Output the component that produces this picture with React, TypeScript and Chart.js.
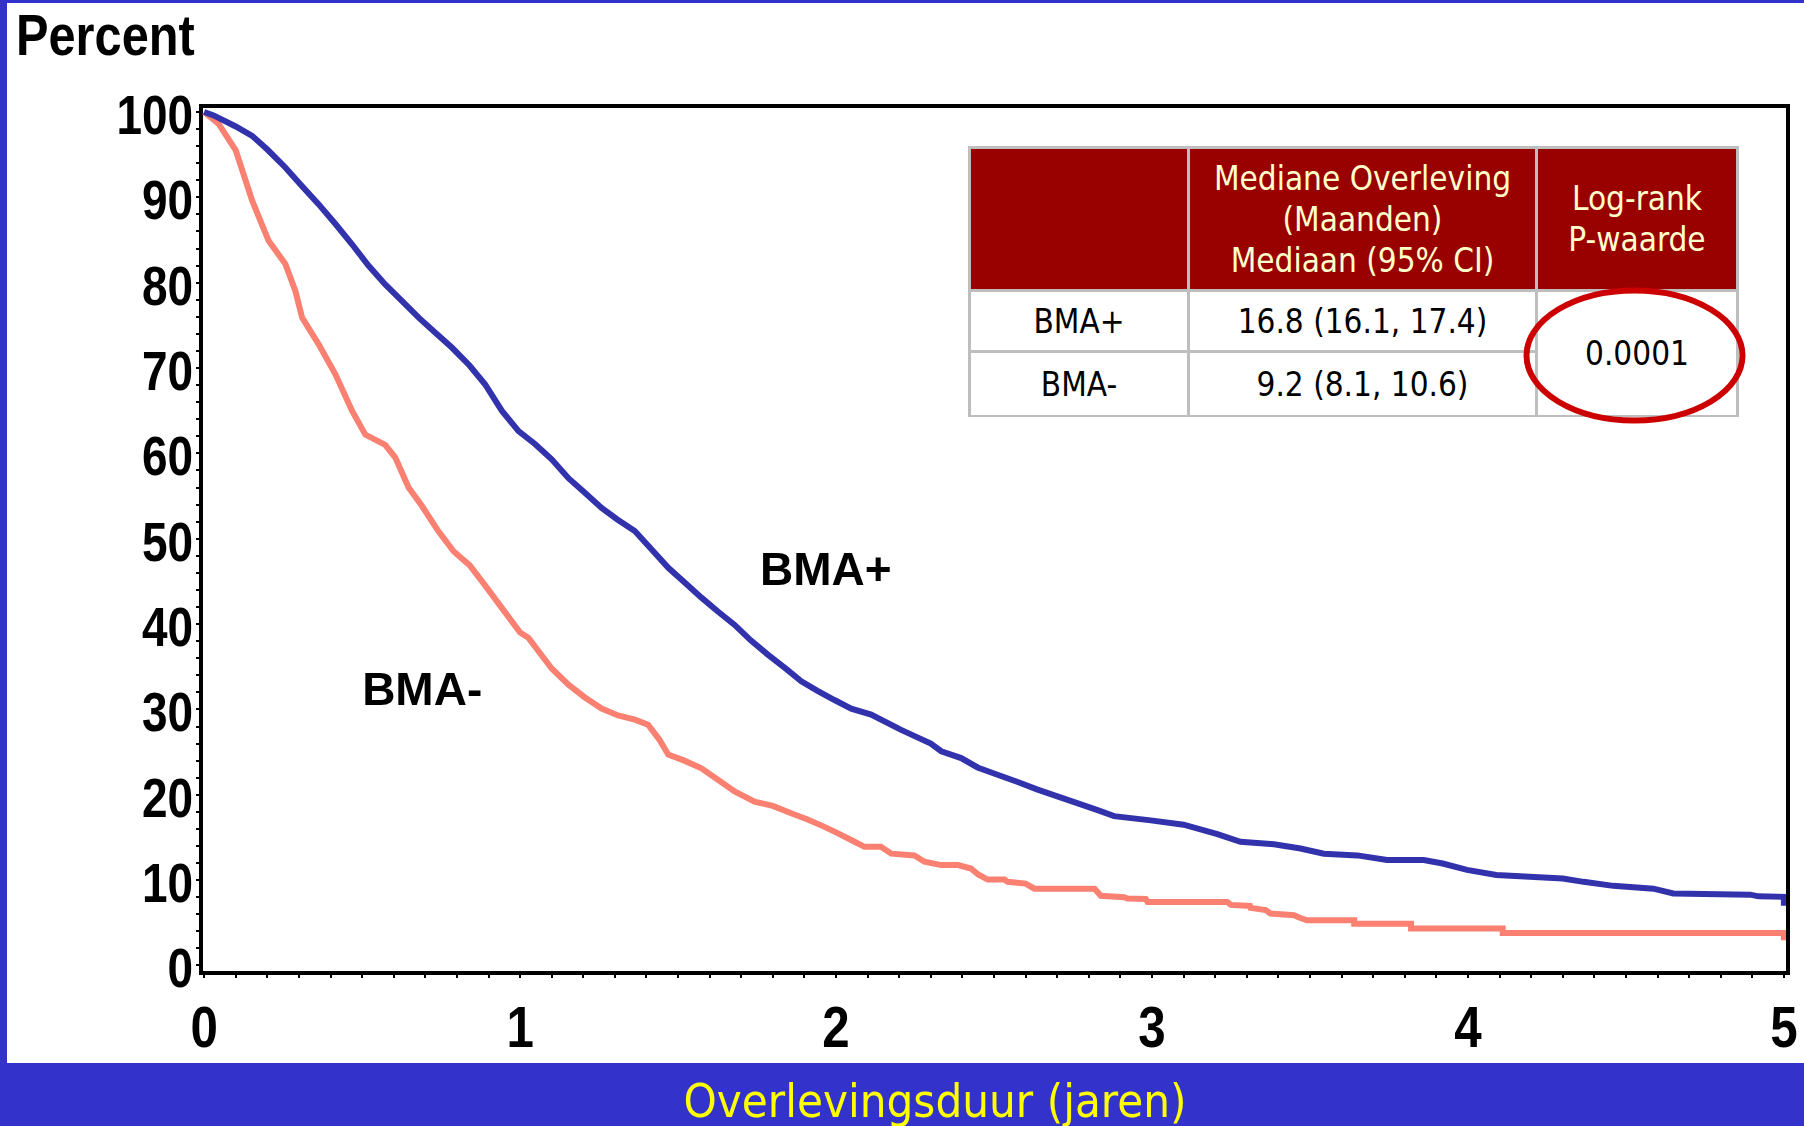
import React, { useEffect, useRef } from 'react';
import { Chart, registerables } from 'chart.js';

Chart.register(...registerables);

// ---- data (years, percent surviving) ----
const blueT = [0, 0.03, 0.1, 0.152, 0.2, 0.257, 0.31, 0.362, 0.415, 0.468, 0.52, 0.573, 0.625, 0.679, 0.73, 0.784, 0.84, 0.889, 0.942, 0.995, 1.047, 1.1, 1.153, 1.205, 1.258, 1.31, 1.363, 1.415, 1.469, 1.52, 1.574, 1.625, 1.679, 1.73, 1.785, 1.84, 1.89, 1.94, 1.995, 2.048, 2.111, 2.206, 2.3, 2.333, 2.396, 2.448, 2.5, 2.575, 2.638, 2.733, 2.828, 2.88, 2.996, 3.1, 3.207, 3.28, 3.386, 3.47, 3.544, 3.65, 3.744, 3.86, 3.92, 3.997, 4.09, 4.3, 4.366, 4.46, 4.587, 4.65, 4.893, 4.92, 5.0, 5.0];
const blueV = [100, 99.6, 98.3, 97.2, 95.6, 93.5, 91.3, 89.2, 86.9, 84.5, 82.0, 79.8, 77.9, 75.9, 74.2, 72.4, 70.3, 68.1, 65.0, 62.6, 61.1, 59.3, 57.1, 55.4, 53.6, 52.2, 50.9, 48.8, 46.6, 44.9, 43.1, 41.5, 39.9, 38.1, 36.4, 34.8, 33.3, 32.2, 31.1, 30.1, 29.4, 27.6, 26.0, 25.1, 24.3, 23.2, 22.5, 21.5, 20.6, 19.4, 18.2, 17.5, 17.0, 16.5, 15.4, 14.5, 14.2, 13.7, 13.1, 12.9, 12.35, 12.35, 11.95, 11.2, 10.6, 10.2, 9.8, 9.33, 9.0, 8.43, 8.3, 8.1, 8.04, 7.0];

const redT = [0, 0.046, 0.1, 0.152, 0.204, 0.257, 0.289, 0.31, 0.362, 0.415, 0.468, 0.51, 0.573, 0.605, 0.647, 0.69, 0.741, 0.79, 0.84, 0.888, 0.942, 1.0, 1.026, 1.1, 1.153, 1.205, 1.258, 1.31, 1.363, 1.405, 1.44, 1.469, 1.52, 1.574, 1.625, 1.679, 1.742, 1.8, 1.86, 1.91, 1.96, 2.0, 2.048, 2.09, 2.142, 2.175, 2.248, 2.28, 2.333, 2.386, 2.427, 2.45, 2.48, 2.533, 2.543, 2.6, 2.628, 2.818, 2.838, 2.912, 2.922, 2.98, 2.986, 3.238, 3.25, 3.31, 3.312, 3.36, 3.375, 3.45, 3.46, 3.49, 3.64, 3.64, 3.82, 3.82, 4.11, 4.11, 5.0, 5.0];
const redV = [100, 98.6, 95.5, 89.6, 84.9, 82.2, 79.0, 75.9, 72.8, 69.3, 65.0, 62.2, 61.0, 59.5, 56.0, 53.8, 50.9, 48.5, 46.9, 44.6, 41.9, 39.0, 38.4, 34.8, 32.9, 31.4, 30.1, 29.3, 28.8, 28.2, 26.5, 24.7, 24.0, 23.1, 21.8, 20.4, 19.2, 18.7, 17.8, 17.1, 16.3, 15.6, 14.7, 13.9, 13.9, 13.1, 12.9, 12.15, 11.76, 11.76, 11.36, 10.66, 10.07, 10.07, 9.8, 9.6, 9.0, 9.0, 8.16, 8.0, 7.84, 7.8, 7.45, 7.45, 7.1, 6.98, 6.75, 6.5, 6.08, 5.9, 5.7, 5.3, 5.3, 4.9, 4.9, 4.32, 4.32, 3.81, 3.81, 2.96];

const seriesNames = ['BMA+', 'BMA-'];
const labelT = [1.759, 0.5];
const labelV = [44.6, 30.5];

const xTickLabels = ['0', '1', '2', '3', '4', '5'];
const yTickLabels = ['0', '10', '20', '30', '40', '50', '60', '70', '80', '90', '100'];

const tableHeader = ['', 'Mediane Overleving\n(Maanden)\nMediaan (95% CI)', 'Log-rank\nP-waarde'];
const medians = ['16.8 (16.1, 17.4)', '9.2 (8.1, 10.6)'];
const pValue = '0.0001';

const yAxisTitle = 'Percent';
const xAxisTitle = 'Overlevingsduur (jaren)';

const SANS = "'Liberation Sans', Arial, Helvetica, sans-serif";
const TAHOMA = "Tahoma, 'DejaVu Sans Condensed', 'DejaVu Sans', sans-serif";
const NARROW_SCALE = 0.82;

const overlayPlugin = {
  id: 'overlay',
  afterDraw(chart: any) {
    const { ctx, chartArea, scales } = chart;
    ctx.save();
    // frame top / right
    ctx.strokeStyle = '#000';
    ctx.lineWidth = 4;
    ctx.beginPath();
    ctx.moveTo(chartArea.left - 2, chartArea.top);
    ctx.lineTo(chartArea.right, chartArea.top);
    ctx.lineTo(chartArea.right, chartArea.bottom + 2);
    ctx.stroke();

    // narrow bold tick labels, positioned by the scales
    ctx.fillStyle = '#000';
    ctx.textBaseline = 'alphabetic';
    ctx.font = `bold 56px ${SANS}`;
    ctx.textAlign = 'right';
    scales.y.ticks.forEach((tk: any) => {
      const lbl = yTickLabels.find((l) => Math.abs(Number(l) - tk.value) < 1e-6);
      if (!lbl) return;
      ctx.save();
      ctx.translate(chartArea.left - 8, scales.y.getPixelForValue(tk.value) + 22);
      ctx.scale(NARROW_SCALE, 1);
      ctx.fillText(lbl, 0, 0);
      ctx.restore();
    });
    ctx.font = `bold 58px ${SANS}`;
    ctx.textAlign = 'center';
    scales.x.ticks.forEach((tk: any) => {
      const lbl = xTickLabels.find((l) => Math.abs(Number(l) - tk.value) < 1e-6);
      if (!lbl) return;
      ctx.save();
      ctx.translate(scales.x.getPixelForValue(tk.value), chartArea.bottom + 74);
      ctx.scale(NARROW_SCALE + 0.03, 1);
      ctx.fillText(lbl, 0, 0);
      ctx.restore();
    });

    // curve labels
    ctx.font = `bold 46px ${SANS}`;
    ctx.textAlign = 'left';
    seriesNames.forEach((n, i) => {
      ctx.fillText(n, scales.x.getPixelForValue(labelT[i]), scales.y.getPixelForValue(labelV[i]));
    });
    ctx.restore();
  },
};

export default function App() {
  const ref = useRef<HTMLCanvasElement>(null);
  useEffect(() => {
    const chart = new Chart(ref.current as HTMLCanvasElement, {
      type: 'line',
      data: {
        datasets: [
          {
            label: seriesNames[0],
            data: blueT.map((t, i) => ({ x: t, y: blueV[i] })),
            borderColor: '#3232AC',
            borderWidth: 6,
            pointRadius: 0,
            tension: 0,
          },
          {
            label: seriesNames[1],
            data: redT.map((t, i) => ({ x: t, y: redV[i] })),
            borderColor: '#FA8072',
            borderWidth: 6,
            pointRadius: 0,
            tension: 0,
          },
        ],
      },
      options: {
        animation: false,
        responsive: false,
        maintainAspectRatio: false,
        layout: { padding: { left: 0, top: 106, right: 16, bottom: 0 } },
        plugins: { legend: { display: false }, tooltip: { enabled: false }, title: { display: false } },
        scales: {
          x: {
            type: 'linear',
            min: -0.01,
            max: 5.013,
            afterFit: (s: any) => { s.height = 153; },
            border: { display: true, color: '#000', width: 4 },
            grid: { drawOnChartArea: false, drawTicks: true, tickLength: 5, color: '#000', lineWidth: 2 },
            ticks: { display: false, stepSize: 0.1, includeBounds: false, autoSkip: false, maxRotation: 0 },
          },
          y: {
            type: 'linear',
            min: -0.88,
            max: 100.7,
            afterFit: (s: any) => { s.width = 201; },
            border: { display: true, color: '#000', width: 4 },
            grid: { drawOnChartArea: false, drawTicks: true, tickLength: 5, color: '#000', lineWidth: 2 },
            ticks: { display: false, stepSize: 2, includeBounds: false, autoSkip: false },
          },
        },
      },
      plugins: [overlayPlugin],
    } as any);
    return () => chart.destroy();
  }, []);

  const grey = '#BEBEBE';
  const cell = (left: number, top: number, width: number, height: number, bg: string, color: string, text: string) => (
    <div
      style={{
        position: 'absolute', left, top, width, height, background: bg, color,
        display: 'flex', alignItems: 'center', justifyContent: 'center', textAlign: 'center',
        whiteSpace: 'pre-line', fontFamily: TAHOMA, fontSize: 33, lineHeight: '41px',
      }}
    >
      {text}
    </div>
  );

  return (
    <div style={{ position: 'absolute', left: 0, top: 0, width: 1804, height: 1126, background: '#3333CC', overflow: 'hidden' }}>
      <div style={{ position: 'absolute', left: 7, top: 3, width: 1797, height: 1060, background: '#FFFFFF' }} />
      <canvas ref={ref} width={1804} height={1126} style={{ position: 'absolute', left: 0, top: 0, width: 1804, height: 1126 }} />
      <div style={{ position: 'absolute', left: 16, top: 6, fontFamily: SANS, fontWeight: 'bold', fontSize: 58, lineHeight: '58px', color: '#000', transform: 'scaleX(0.84)', transformOrigin: 'left top', whiteSpace: 'nowrap' }}>
        {yAxisTitle}
      </div>
      <div style={{ position: 'absolute', left: 968, top: 146, width: 771, height: 271, background: grey }}>
        {cell(3, 3, 216, 140, '#990000', '#FFFFCC', tableHeader[0])}
        {cell(222, 3, 345, 140, '#990000', '#FFFFCC', tableHeader[1])}
        {cell(570, 3, 198, 140, '#990000', '#FFFFCC', tableHeader[2])}
        {cell(3, 146, 216, 58, '#FFFFFF', '#000', seriesNames[0])}
        {cell(222, 146, 345, 58, '#FFFFFF', '#000', medians[0])}
        {cell(3, 207, 216, 62, '#FFFFFF', '#000', seriesNames[1])}
        {cell(222, 207, 345, 62, '#FFFFFF', '#000', medians[1])}
        {cell(570, 146, 198, 123, '#FFFFFF', '#000', pValue)}
      </div>
      <svg width={1804} height={1126} style={{ position: 'absolute', left: 0, top: 0, pointerEvents: 'none' }}>
        <ellipse cx={1634.5} cy={355.5} rx={108} ry={65} fill="none" stroke="#CC0000" strokeWidth={6} />
      </svg>
      <div style={{ position: 'absolute', left: 635, width: 600, top: 1077, textAlign: 'center', fontFamily: TAHOMA, fontSize: 47, lineHeight: '47px', color: '#FFFF00', whiteSpace: 'nowrap' }}>
        {xAxisTitle}
      </div>
    </div>
  );
}
